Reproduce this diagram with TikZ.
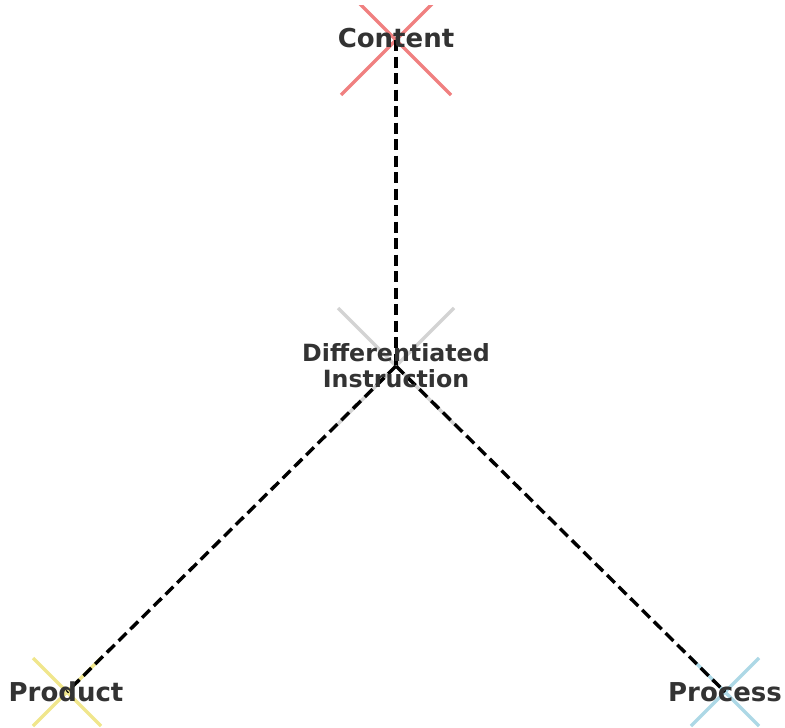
\documentclass[tikz,border=0pt]{standalone}
\usepackage{fontspec}
\setmainfont{DejaVu Sans}
\usetikzlibrary{calc}
\definecolor{txtgray}{HTML}{333333}
\definecolor{mred}{HTML}{F08080}
\definecolor{mgray}{HTML}{D3D3D3}
\definecolor{myellow}{HTML}{F0E68C}
\definecolor{mblue}{HTML}{ADD8E6}
\begin{document}
\begin{tikzpicture}[x=1pt,y=-1pt,
  marker/.style={line width=3.3pt},
  link/.style={line width=3.4pt, black, dash pattern=on 11pt off 5.5pt},
  outerlabel/.style={text=txtgray, font=\fontsize{26pt}{28pt}\selectfont\bfseries, inner sep=0pt},
  centerlabel/.style={text=txtgray, font=\fontsize{23.7pt}{26pt}\selectfont\bfseries, align=center, inner sep=0pt}]
\useasboundingbox (0,0) rectangle (785,728);
\coordinate (c) at (396,40);
\coordinate (d) at (396,366);
\coordinate (p) at (67,692);
\coordinate (q) at (725,692);
% markers
\begin{scope}
\clip (0,5) rectangle (785,728);
\draw[marker, mred] ($(c)+(-55,-55)$) -- ($(c)+(55,55)$) ($(c)+(-55,55)$) -- ($(c)+(55,-55)$);
\draw[marker, mgray] ($(d)+(-58,-58)$) -- ($(d)+(58,58)$) ($(d)+(-58,58)$) -- ($(d)+(58,-58)$);
\draw[marker, myellow] ($(p)+(-34,-34)$) -- ($(p)+(34,34)$) ($(p)+(-34,34)$) -- ($(p)+(34,-34)$);
\draw[marker, mblue] ($(q)+(-34,-34)$) -- ($(q)+(34,34)$) ($(q)+(-34,34)$) -- ($(q)+(34,-34)$);
\end{scope}
% connectors
\draw[link] (c) -- (d);
\draw[link] (d) -- (p);
\draw[link] (d) -- (q);
% labels
\node[outerlabel] (lc) at (396,38) {Content};
\node[centerlabel] (ld) at (396,366) {Differentiated\\Instruction};
\node[outerlabel] (lp) at (66,692) {Product};
\node[outerlabel] (lq) at (725,692) {Process};
\end{tikzpicture}
\end{document}
